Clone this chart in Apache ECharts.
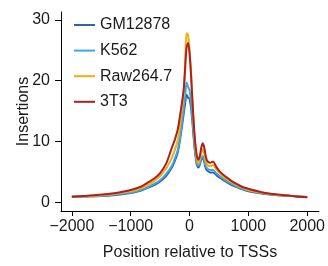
<!DOCTYPE html>
<html>
<head>
<meta charset="utf-8">
<script src="https://cdn.jsdelivr.net/npm/echarts@6/dist/echarts.min.js"></script>
<style>
  html, body { margin: 0; padding: 0; background: #fff; }
  #chart { width: 328px; height: 266px; }
</style>
</head>
<body>
<div id="chart"></div>
<script>
const positions = [-2000, -1750, -1500, -1250, -1000, -900, -800, -700, -600, -500, -400, -300, -250, -200, -150, -100, -75, -50, -25, 0, 25, 50, 75, 100, 125, 150, 175, 200, 225, 250, 275, 300, 350, 400, 450, 500, 600, 700, 800, 900, 1000, 1250, 1500, 1750, 2000]

const gm12878 = [0.9, 0.95, 1.0, 1.2, 1.5, 1.7, 2.0, 2.4, 2.8, 3.4, 4.3, 5.7, 6.8, 8.2, 11, 14.5, 16.2, 17.7, 17.2, 17, 15.5, 13, 10, 7.6, 6.1, 5.7, 6.2, 7.0, 7.3, 6.6, 5.6, 5.2, 4.9, 4.9, 4.5, 4.1, 3.5, 2.9, 2.5, 2.1, 1.8, 1.4, 1.15, 1.0, 0.85]
const k562 = [0.9, 0.95, 1.05, 1.3, 1.6, 1.8, 2.1, 2.5, 3.0, 3.6, 4.6, 6.0, 7.2, 8.6, 11.5, 15.5, 17.5, 19.7, 19.0, 18.4, 16.5, 13.5, 10.5, 8.0, 6.5, 6.0, 6.5, 7.3, 7.6, 7.0, 6.0, 5.6, 5.3, 5.3, 4.8, 4.4, 3.7, 3.1, 2.6, 2.2, 1.9, 1.45, 1.2, 1.0, 0.85]
const raw2647 = [0.9, 1.0, 1.15, 1.4, 1.8, 2.05, 2.4, 2.9, 3.5, 4.3, 5.5, 7.3, 8.6, 10.2, 13.5, 18, 23, 27.8, 27.5, 25, 21.5, 16.5, 12, 8.8, 7.0, 6.4, 7.0, 8.2, 8.7, 8.0, 6.8, 6.2, 5.9, 6.1, 5.5, 4.9, 4.0, 3.4, 2.8, 2.4, 2.0, 1.5, 1.2, 1.0, 0.8]
const t3t3 = [0.9, 1.05, 1.25, 1.5, 2.0, 2.3, 2.7, 3.3, 3.9, 4.8, 6.3, 9.0, 10.3, 12, 15, 18.5, 22, 25.5, 26.2, 24.5, 21, 16.5, 12.5, 9.5, 7.6, 7.0, 7.6, 9.0, 9.7, 9.0, 7.6, 6.8, 6.5, 6.7, 5.9, 5.2, 4.3, 3.6, 3.0, 2.5, 2.2, 1.6, 1.25, 1.0, 0.8]

const xTicks = [-2000, -1000, 0, 1000, 2000]
const yTicks = [0, 10, 20, 30]

const seriesNames = ['GM12878', 'K562', 'Raw264.7', '3T3']
const seriesColors = ['#2f63ae', '#3ba9e1', '#f6ac0a', '#ae1f1f']
const seriesValues = [gm12878, k562, raw2647, t3t3]

const textColor = '#1a1a1a'
const fontFamily = 'Liberation Sans, Arial, sans-serif'

const chart = echarts.init(document.getElementById('chart'))

chart.setOption({
  animation: false,
  backgroundColor: '#fff',
  textStyle: { fontFamily: fontFamily },
  grid: { left: 61, right: 6, top: 12, bottom: 51 },
  legend: {
    data: seriesNames.map(n => ({ name: n, icon: 'rect' })),
    orient: 'vertical',
    left: 74,
    top: 17,
    padding: 0,
    itemWidth: 21,
    itemHeight: 2,
    itemGap: 9.6,
    textStyle: { fontSize: 16, color: textColor, fontFamily: fontFamily }
  },
  xAxis: {
    type: 'value',
    min: -2185,
    max: 2200,
    name: 'Position relative to TSSs',
    nameLocation: 'middle',
    nameGap: 34,
    nameMoveOverlap: false,
    nameTextStyle: { fontSize: 16, color: textColor },
    axisLine: { show: true, onZero: false, lineStyle: { color: '#000', width: 1 } },
    axisTick: { show: true, length: 5, customValues: xTicks, lineStyle: { color: '#000' } },
    axisLabel: {
      customValues: xTicks,
      fontSize: 16,
      color: textColor,
      margin: 8,
      formatter: v => String(v).replace('-', '\u2212')
    },
    splitLine: { show: false }
  },
  yAxis: {
    type: 'value',
    min: -1.45,
    max: 31.3,
    name: 'Insertions',
    nameLocation: 'middle',
    nameGap: 29,
    nameMoveOverlap: false,
    nameTextStyle: { fontSize: 16, color: textColor },
    axisLine: { show: true, onZero: false, lineStyle: { color: '#000', width: 1 } },
    axisTick: { show: true, length: 6, customValues: yTicks, lineStyle: { color: '#000' } },
    axisLabel: { customValues: yTicks, fontSize: 16, color: textColor, margin: 11 },
    splitLine: { show: false }
  },
  series: seriesNames.map((name, i) => ({
    name: name,
    type: 'line',
    data: positions.map((p, j) => [p, seriesValues[i][j]]),
    symbol: 'none',
    smooth: 0.3,
    lineStyle: { width: 2, color: seriesColors[i] },
    itemStyle: { color: seriesColors[i] }
  }))
})
</script>
</body>
</html>
